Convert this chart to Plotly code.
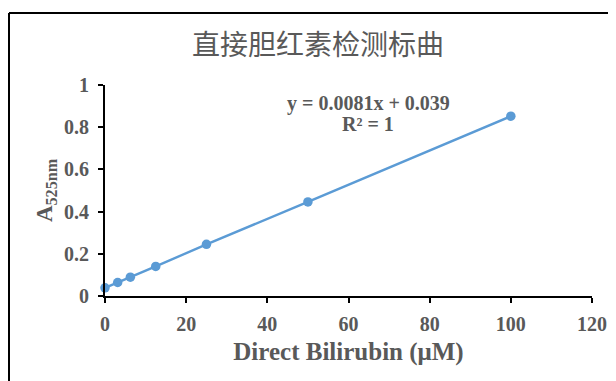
import plotly.graph_objects as go

concentration = [0, 3.125, 6.25, 12.5, 25, 50, 100]
absorbance = [0.039, 0.064, 0.089, 0.14, 0.245, 0.446, 0.852]
x_ticks = [0, 20, 40, 60, 80, 100, 120]
y_ticks = [0, 0.2, 0.4, 0.6, 0.8, 1]
y_tick_labels = ["0", "0.2", "0.4", "0.6", "0.8", "1"]

blue = "#5B9BD5"
gray = "#595959"
serif = "Liberation Serif, Times New Roman, serif"

# plot-area geometry (figure pixels)
L, T, PW, PH = 97, 77, 487, 211
W, H = 616, 381

fig = go.Figure()
fig.add_trace(go.Scatter(
    x=concentration, y=absorbance, mode="lines+markers",
    line=dict(color=blue, width=2.4),
    marker=dict(color=blue, size=9.5),
    showlegend=False, cliponaxis=False,
))

tick_font = dict(family=serif, size=20, color=gray, weight="bold")

fig.update_layout(
    width=W, height=H,
    margin=dict(l=L, r=W - L - PW, t=T, b=H - T - PH),
    paper_bgcolor="white", plot_bgcolor="white",
    title=dict(text="直接胆红素检测标曲", x=310 / W, xanchor="center",
               y=1 - 37 / H, yanchor="middle",
               font=dict(family="Noto Sans CJK SC", size=28, color=gray)),
    xaxis=dict(range=[0, 120], tickvals=x_ticks, ticktext=[str(v) for v in x_ticks],
               showgrid=False, zeroline=False, showline=True, linecolor="black", linewidth=2,
               ticks="outside", ticklen=5, tickwidth=2, tickcolor="black",
               tickfont=tick_font, ticklabelstandoff=4,
               title=dict(text="Direct Bilirubin (μM)", standoff=8,
                          font=dict(family=serif, size=25, color=gray, weight="bold"))),
    yaxis=dict(range=[0, 1], tickvals=y_ticks, ticktext=y_tick_labels,
               showgrid=False, zeroline=False, showline=True, linecolor="black", linewidth=2,
               ticks="outside", ticklen=5, tickwidth=2, tickcolor="black",
               tickfont=tick_font, ticklabelstandoff=5,
               title=dict(text="A<sub>525nm</sub>", standoff=5,
                          font=dict(family=serif, size=23, color=gray, weight="bold"))),
    font=dict(family=serif, color=gray),
)

ann_font = dict(family=serif, size=20, color=gray, weight="bold")
fig.add_annotation(xref="paper", yref="paper", x=(360 - L) / PW, y=1 - (95 - T) / PH,
                   text="y = 0.0081x + 0.039", showarrow=False,
                   font=ann_font, xanchor="center", yanchor="middle")
fig.add_annotation(xref="paper", yref="paper", x=(360 - L) / PW, y=1 - (116 - T) / PH,
                   text="R² = 1", showarrow=False,
                   font=ann_font, xanchor="center", yanchor="middle")

# outer frame (top and left edges visible)
left_px, top_px = 1, 5
fx = (left_px - L) / PW
fy = 1 + (T - top_px) / PH
fig.add_shape(type="line", xref="paper", yref="paper", x0=fx, y0=fy, x1=1.3, y1=fy,
              line=dict(color="black", width=2))
fig.add_shape(type="line", xref="paper", yref="paper", x0=fx, y0=fy, x1=fx, y1=-0.6,
              line=dict(color="black", width=2))

fig.write_html("out.html")
